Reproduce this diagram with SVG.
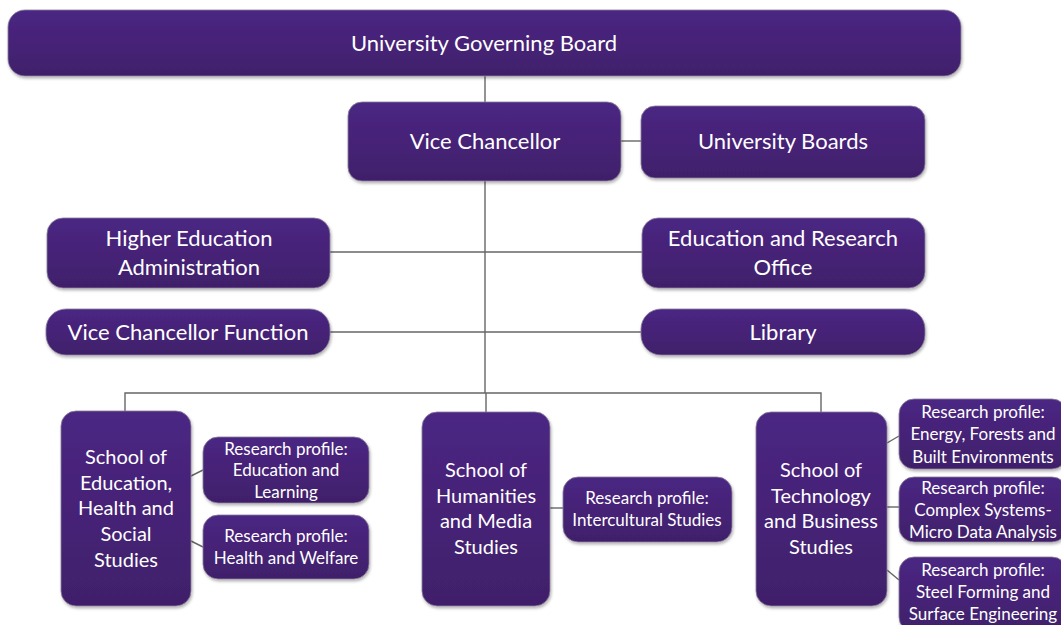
<svg xmlns="http://www.w3.org/2000/svg" width="1061" height="625" viewBox="0 0 1061 625">
  <defs>
    <linearGradient id="boxFill" x1="0" y1="0" x2="0" y2="1">
      <stop offset="0" stop-color="#4b2683"/>
      <stop offset="1" stop-color="#401f6a"/>
    </linearGradient>
    <filter id="shadow" x="-10%" y="-10%" width="120%" height="130%">
      <feDropShadow dx="1" dy="2" stdDeviation="1.5" flood-color="#000" flood-opacity="0.3"/>
    </filter>
  </defs>
  <style>
    .box { fill: url(#boxFill); stroke: #8a8299; stroke-width: 0.8; filter: url(#shadow); }
    .link { fill: none; stroke: #666; stroke-width: 1.4; }
    text { font-family: "Lato", "Liberation Sans", sans-serif; fill: #ffffff; text-anchor: middle; }
    .t22 { font-size: 22px; }
    .t20 { font-size: 20px; }
    .t17 { font-size: 17px; }
  </style>
  <rect width="1061" height="625" fill="#ffffff"/>

  <!-- connectors -->
  <g id="connectors">
    <line class="link" x1="485" y1="76" x2="485" y2="393"/>
    <line class="link" x1="621" y1="141" x2="641" y2="141"/>
    <line class="link" x1="330" y1="252" x2="642" y2="252"/>
    <line class="link" x1="330" y1="332" x2="641" y2="332"/>
    <polyline class="link" points="125,411 125,393 821,393 821,412"/>
    <line class="link" x1="486" y1="393" x2="486" y2="412"/>
    <line class="link" x1="191" y1="476" x2="203" y2="470"/>
    <line class="link" x1="191" y1="541" x2="203" y2="547"/>
    <line class="link" x1="550" y1="508" x2="563" y2="508"/>
    <line class="link" x1="887" y1="443" x2="899" y2="436"/>
    <line class="link" x1="887" y1="507" x2="899" y2="507"/>
    <line class="link" x1="887" y1="570" x2="899" y2="580"/>
  </g>

  <g id="governing-board">
    <rect class="box" x="8" y="10" width="953" height="66" rx="17"/>
    <text class="t22" x="484" y="51">University Governing Board</text>
  </g>

  <g id="vice-chancellor">
    <rect class="box" x="348" y="102" width="273" height="79" rx="14"/>
    <text class="t22" x="485" y="149">Vice Chancellor</text>
  </g>

  <g id="university-boards">
    <rect class="box" x="641" y="106" width="284" height="72" rx="14"/>
    <text class="t22" x="783" y="149">University Boards</text>
  </g>

  <g id="higher-education-administration">
    <rect class="box" x="47" y="218" width="283" height="70" rx="16"/>
    <text class="t22" x="189" y="246">Higher Education</text>
    <text class="t22" x="189" y="275">Administration</text>
  </g>

  <g id="education-research-office">
    <rect class="box" x="642" y="218" width="283" height="70" rx="16"/>
    <text class="t22" x="783" y="246">Education and Research</text>
    <text class="t22" x="783" y="275">Office</text>
  </g>

  <g id="vice-chancellor-function">
    <rect class="box" x="46" y="309" width="284" height="46" rx="20"/>
    <text class="t22" x="188" y="340">Vice Chancellor Function</text>
  </g>

  <g id="library">
    <rect class="box" x="641" y="309" width="284" height="46" rx="20"/>
    <text class="t22" x="783" y="340">Library</text>
  </g>

  <g id="school-education-health-social">
    <rect class="box" x="61" y="411" width="130" height="195" rx="15"/>
    <text class="t20" x="126" y="464">School of</text>
    <text class="t20" x="126" y="490">Education,</text>
    <text class="t20" x="126" y="515">Health and</text>
    <text class="t20" x="126" y="541">Social</text>
    <text class="t20" x="126" y="567">Studies</text>
  </g>

  <g id="rp-education-learning">
    <rect class="box" x="203" y="437" width="166" height="66" rx="15"/>
    <text class="t17" x="286" y="455">Research profile:</text>
    <text class="t17" x="286" y="476">Education and</text>
    <text class="t17" x="286" y="498">Learning</text>
  </g>

  <g id="rp-health-welfare">
    <rect class="box" x="203" y="515" width="166" height="64" rx="15"/>
    <text class="t17" x="286" y="542">Research profile:</text>
    <text class="t17" x="286" y="564">Health and Welfare</text>
  </g>

  <g id="school-humanities-media">
    <rect class="box" x="422" y="412" width="128" height="194" rx="15"/>
    <text class="t20" x="486" y="477">School of</text>
    <text class="t20" x="486" y="503">Humanities</text>
    <text class="t20" x="486" y="528">and Media</text>
    <text class="t20" x="486" y="554">Studies</text>
  </g>

  <g id="rp-intercultural">
    <rect class="box" x="563" y="477" width="169" height="65" rx="15"/>
    <text class="t17" x="647" y="504">Research profile:</text>
    <text class="t17" x="647" y="526">Intercultural Studies</text>
  </g>

  <g id="school-technology-business">
    <rect class="box" x="756" y="412" width="131" height="194" rx="15"/>
    <text class="t20" x="821" y="477">School of</text>
    <text class="t20" x="821" y="503">Technology</text>
    <text class="t20" x="821" y="528">and Business</text>
    <text class="t20" x="821" y="554">Studies</text>
  </g>

  <g id="rp-energy-forests">
    <rect class="box" x="899" y="399" width="168" height="70" rx="15"/>
    <text class="t17" x="983" y="418">Research profile:</text>
    <text class="t17" x="983" y="440">Energy, Forests and</text>
    <text class="t17" x="983" y="463">Built Environments</text>
  </g>

  <g id="rp-complex-systems">
    <rect class="box" x="899" y="477" width="168" height="65" rx="15"/>
    <text class="t17" x="983" y="494">Research profile:</text>
    <text class="t17" x="983" y="516">Complex Systems-</text>
    <text class="t17" x="983" y="538">Micro Data Analysis</text>
  </g>

  <g id="rp-steel-forming">
    <rect class="box" x="899" y="557" width="168" height="75" rx="15"/>
    <text class="t17" x="983" y="576">Research profile:</text>
    <text class="t17" x="983" y="598">Steel Forming and</text>
    <text class="t17" x="983" y="620">Surface Engineering</text>
  </g>
</svg>
